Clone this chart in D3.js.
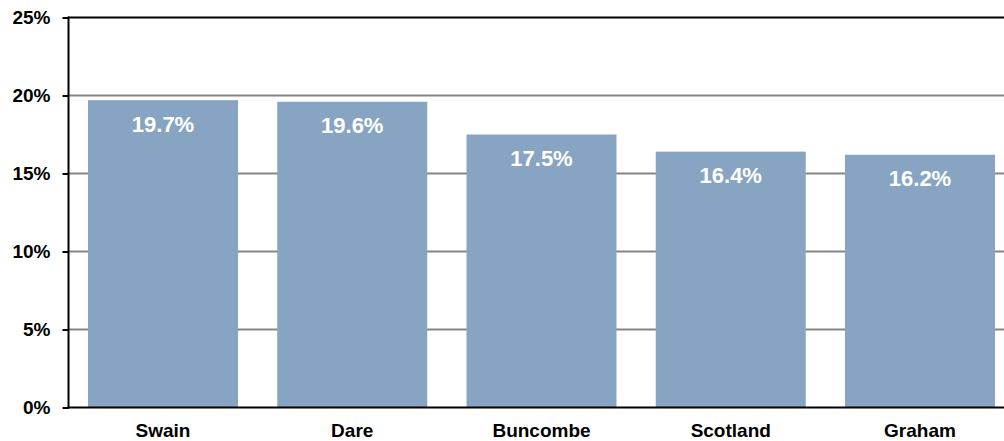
<!DOCTYPE html>
<html>
<head>
<meta charset="utf-8">
<script src="https://cdn.jsdelivr.net/npm/d3@7"></script>
<style>
	body { margin: 0; background: #fff; }
	text { font-family: Arial, "Liberation Sans", sans-serif; font-weight: bold; }
</style>
</head>
<body>
<div id="chart"></div>
<script>
// data
var counties = ["Swain", "Dare", "Buncombe", "Scotland", "Graham"];
var shares = [19.7, 19.6, 17.5, 16.4, 16.2];
var yTicks = [0, 5, 10, 15, 20, 25];

var width = 1004, height = 441;
var plotLeft = 68.5, plotTop = 17.5, plotBottom = 407.5;

var svg = d3.select("#chart").append("svg")
	.attr("width", width)
	.attr("height", height);

var y = d3.scaleLinear().domain([0, 25]).range([plotBottom, plotTop]);
var x = d3.scaleBand()
	.domain(counties)
	.range([plotLeft, plotLeft + 946])
	.paddingInner(0.2074)
	.paddingOuter(0.103);

// gridlines
svg.append("g")
	.selectAll("line")
	.data(yTicks.filter(function (d) { return d > 0 && d < 25; }))
	.enter().append("line")
	.attr("x1", plotLeft).attr("x2", width)
	.attr("y1", function (d) { return y(d); })
	.attr("y2", function (d) { return y(d); })
	.style("stroke", "#858585")
	.style("stroke-width", 2);

// top line at 25%
svg.append("line")
	.attr("x1", plotLeft).attr("x2", width)
	.attr("y1", y(25)).attr("y2", y(25))
	.style("stroke", "#000").style("stroke-width", 2);

// bars
svg.append("g")
	.selectAll("rect")
	.data(shares)
	.enter().append("rect")
	.attr("x", function (d, i) { return x(counties[i]); })
	.attr("width", x.bandwidth())
	.attr("y", function (d) { return y(d); })
	.attr("height", function (d) { return plotBottom - y(d); })
	.style("fill", "#87a5c3");

// value labels
svg.append("g")
	.selectAll("text")
	.data(shares)
	.enter().append("text")
	.attr("x", function (d, i) { return x(counties[i]) + x.bandwidth() / 2; })
	.attr("y", function (d) { return y(d) + 31.5; })
	.attr("text-anchor", "middle")
	.attr("font-size", "22px")
	.style("fill", "#fff")
	.text(function (d) { return d.toFixed(1) + "%"; });

// y axis
var yAxis = svg.append("g")
	.attr("transform", "translate(" + plotLeft + ",0)")
	.call(d3.axisLeft(y).tickValues(yTicks).tickSize(6).tickPadding(12)
		.tickFormat(function (d) { return d + "%"; }));
yAxis.select(".domain").remove();
yAxis.selectAll(".tick line").style("stroke", "#000").style("stroke-width", 2);
yAxis.selectAll("text")
	.attr("font-size", "19px")
	.style("font-family", "Arial, 'Liberation Sans', sans-serif")
	.style("fill", "#000");
svg.append("line")
	.attr("x1", plotLeft).attr("x2", plotLeft)
	.attr("y1", plotTop - 1).attr("y2", plotBottom + 1)
	.style("stroke", "#000").style("stroke-width", 2);

// x axis
svg.append("line")
	.attr("x1", plotLeft - 1).attr("x2", width)
	.attr("y1", plotBottom).attr("y2", plotBottom)
	.style("stroke", "#000").style("stroke-width", 2);
svg.append("g")
	.selectAll("text")
	.data(counties)
	.enter().append("text")
	.attr("x", function (d) { return x(d) + x.bandwidth() / 2; })
	.attr("y", 436.5)
	.attr("text-anchor", "middle")
	.attr("font-size", "19px")
	.style("fill", "#000")
	.text(function (d) { return d; });
</script>
</body>
</html>
